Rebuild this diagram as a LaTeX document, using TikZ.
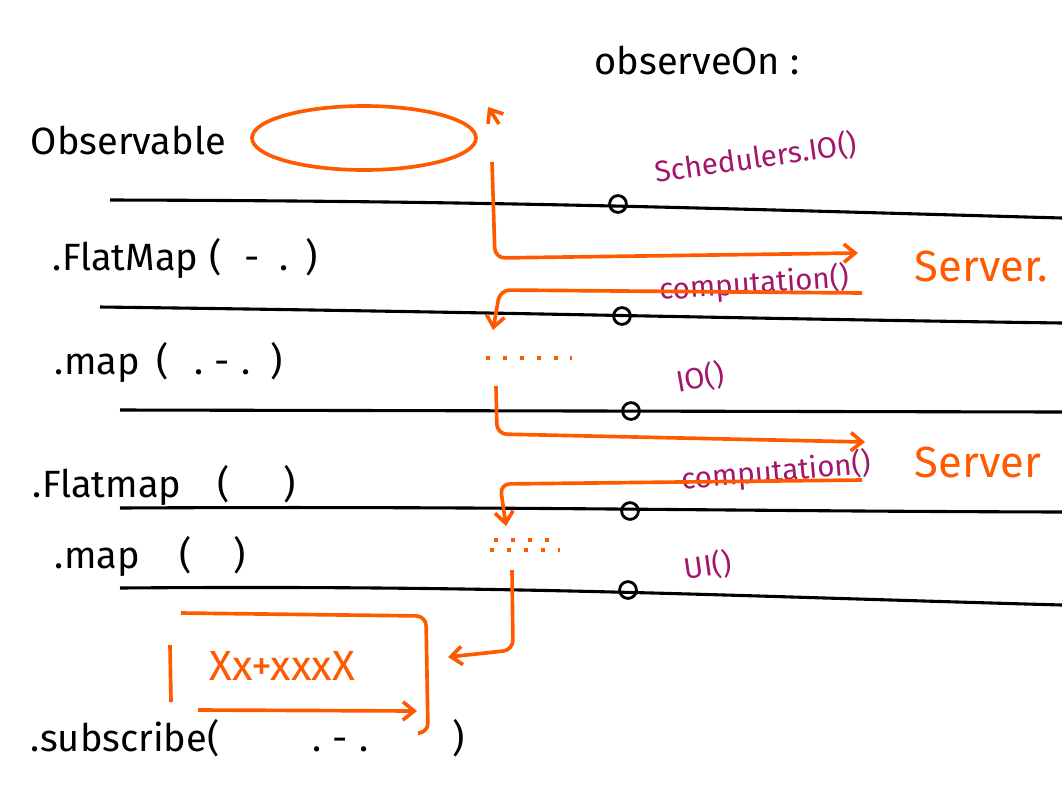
\documentclass[tikz,border=0pt]{standalone}
\usepackage{fontspec}
\setmainfont{Fira Sans}
\usetikzlibrary{arrows.meta}
\definecolor{penorange}{RGB}{255,90,0}
\definecolor{penpurple}{RGB}{162,23,108}

\begin{document}
\begin{tikzpicture}[x=0.025cm,y=-0.025cm,
  timeline/.style={line width=2.2pt,black},
  tick/.style={circle,draw=black,line width=2pt,minimum size=0.42cm,inner sep=0pt},
  flow/.style={line width=2.6pt,penorange,rounded corners=7pt},
  flowtip/.style={-{Straight Barb[length=8pt,width=13pt]}},
  dots/.style={penorange,line width=2.2pt,dash pattern=on 3pt off 9pt},
  hand/.style={font=\fontsize{27}{30}\selectfont},
  sched/.style={text=penpurple,inner sep=1pt,font=\fontsize{21}{24}\selectfont},
  thread/.style={text=penorange,font=\fontsize{31}{34}\selectfont}]

\useasboundingbox (0,0) rectangle (1062,791);
\fill[white] (0,0) rectangle (1062,791);

% titles
\node[hand,anchor=west] (obs) at (26,140) {Observable};
\node[hand] (obson) at (697,60) {observeOn :};

% operator chain
\node[hand,anchor=west] (flat1) at (48,258) {.FlatMap\hspace{8pt}(\hspace{16pt}-\hspace{14pt}.\hspace{12pt})};
\node[hand,anchor=west] (map1) at (50,362) {.map\hspace{12pt}(\hspace{18pt}.\hspace{8pt}-\hspace{8pt}.\hspace{14pt})};
\node[hand,anchor=west] (flat2) at (28,485) {.Flatmap\hspace{26pt}(\hspace{38pt})};
\node[hand,anchor=west] (map2) at (50,556) {.map\hspace{28pt}(\hspace{30pt})};
\node[hand,anchor=west] (sub) at (26,738) {.subscribe(\hspace{66pt}.\hspace{8pt}-\hspace{8pt}.\hspace{60pt})};

% timelines
\coordinate (t1s) at (110,200); \coordinate (t1e) at (1062,218);
\coordinate (t2s) at (100,307); \coordinate (t2e) at (1062,323);
\coordinate (t3s) at (120,410); \coordinate (t3e) at (1062,412);
\coordinate (t4s) at (120,508); \coordinate (t4e) at (1062,512);
\coordinate (t5s) at (120,588); \coordinate (t5e) at (1062,605);
\draw[timeline] (t1s) .. controls (500,201) and (700,208) .. (t1e);
\draw[timeline] (t2s) .. controls (500,312) and (700,318) .. (t2e);
\draw[timeline] (t3s) -- (t3e);
\draw[timeline] (t4s) .. controls (500,506) and (700,511) .. (t4e);
\draw[timeline] (t5s) .. controls (500,585) and (700,595) .. (t5e);

% switch points
\node[tick] (on1) at (618,204) {};
\node[tick] (on2) at (622,316) {};
\node[tick] (on3) at (631,411) {};
\node[tick] (on4) at (630,511) {};
\node[tick] (on5) at (628,590) {};

% schedulers
\node[sched,rotate=8] (s1) at (756,158) {Schedulers.IO()};
\node[sched,rotate=4] (s2) at (754,284) {computation()};
\node[sched,rotate=10] (s3) at (700,378) {IO()};
\node[sched,rotate=5] (s4) at (776,472) {computation()};
\node[sched,rotate=8] (s5) at (708,566) {UI()};

% server side
\node[thread,anchor=west] (srv1) at (910,266) {Server.};
\node[thread,anchor=west] (srv2) at (910,462) {Server};

% thread hops
\draw[flow] (364,138) ellipse [x radius=112,y radius=32];
\draw[flow,flowtip] (499,124) -- (488,107);
\draw[flow,flowtip] (492,162) -- (495,258) -- (858,253);
\draw[flow,flowtip] (862,293) -- (500,290) -- (493,330);
\draw[dots] (486,358) -- (572,358);
\draw[flow,flowtip] (496,386) -- (497,434) -- (865,442);
\draw[flow,flowtip] (862,480) -- (500,484) -- (506,526);
\draw[dots] (494,540) -- (560,540);
\draw[dots] (490,550) -- (560,550);
\draw[flow,flowtip] (512,570) -- (513,650) -- (448,657);

% result box
\draw[flow] (181,613) -- (426,616) -- (428,733) -- (420,733);
\draw[flow] (170,645) -- (171,702);
\draw[flow,flowtip] (198,710) -- (417,711);
\node[hand,text=penorange,font=\fontsize{30}{34}\selectfont] (res) at (282,666) {Xx+xxxX};

\end{tikzpicture}
\end{document}
